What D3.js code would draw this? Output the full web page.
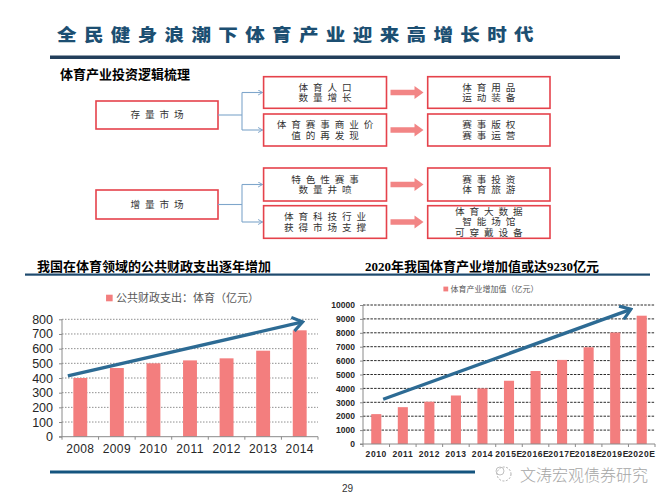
<!DOCTYPE html>
<html><head><meta charset="utf-8">
<script src="https://cdn.jsdelivr.net/npm/d3@7"></script>
<style>
html,body{margin:0;padding:0;background:#fff;}
svg{display:block;}
</style></head>
<body>
<svg id="c" width="669" height="499"></svg>
<script>
// ---- data ----
const pageTitle = "全民健身浪潮下体育产业迎来高增长时代";
const diagramTitle = "体育产业投资逻辑梳理";
const diagramLeft = ["存量市场", "增量市场"];
const diagramMid = [["体育人口", "数量增长"], ["体育赛事商业价", "值的再发现"], ["特色性赛事", "数量井喷"], ["体育科技行业", "获得市场支撑"]];
const diagramRight = [["体育用品", "运动装备"], ["赛事版权", "赛事运营"], ["赛事投资", "体育旅游"], ["体育大数据", "智能场馆", "可穿戴设备"]];

const leftTitle = "我国在体育领域的公共财政支出逐年增加";
const leftLegend = "公共财政支出：体育（亿元）";
const leftYears = ["2008", "2009", "2010", "2011", "2012", "2013", "2014"];
const leftValues = [400, 468, 500, 520, 534, 586, 725];
const leftTicks = [0, 100, 200, 300, 400, 500, 600, 700, 800];

const rightTitle = "2020年我国体育产业增加值或达9230亿元";
const rightLegend = "体育产业增加值（亿元）";
const rightYears = ["2010", "2011", "2012", "2013", "2014", "2015E", "2016E", "2017E", "2018E", "2019E", "2020E"];
const rightValues = [2150, 2650, 3040, 3490, 4000, 4550, 5250, 6050, 6960, 8020, 9230];
const rightTicks = [0, 1000, 2000, 3000, 4000, 5000, 6000, 7000, 8000, 9000, 10000];

// trend arrows: [category, offset in bands, value]
const leftTrend = [["2008", -0.34, 414], ["2014", 0.08, 782]];
const rightTrend = [["2010", 0.26, 3220], ["2020E", -0.41, 9690]];

const pageNumber = "29";
const watermark = "文涛宏观债券研究";

// ---- drawing ----
const svg = d3.select("#c");
const CJK = "'Noto Sans CJK SC', sans-serif";
const SANS = "'Liberation Sans', Arial, 'Noto Sans CJK SC', sans-serif";
const BAR = "#F37E7E";
const BLUE = "#2D6B94";

const defs = svg.append("defs");
defs.append("marker").attr("id", "chev").attr("markerUnits", "userSpaceOnUse")
  .attr("viewBox", "0 0 14 16").attr("refX", 12).attr("refY", 8)
  .attr("markerWidth", 14).attr("markerHeight", 16).attr("orient", "auto")
  .append("path").attr("d", "M2,1 L12,8 L2,15").attr("fill", "none")
  .attr("stroke", BLUE).attr("stroke-width", 3.2).attr("stroke-linejoin", "miter");
defs.append("marker").attr("id", "small").attr("markerUnits", "userSpaceOnUse")
  .attr("viewBox", "0 0 6 6").attr("refX", 5.5).attr("refY", 3)
  .attr("markerWidth", 6).attr("markerHeight", 6).attr("orient", "auto")
  .append("path").attr("d", "M1,0.5 L5.5,3 L1,5.5").attr("fill", "none")
  .attr("stroke", "#7FA6CB").attr("stroke-width", 1);

// page title
svg.append("text").attr("transform", "translate(57,41) scale(1.15,1)")
  .attr("font-family", CJK).attr("font-weight", 900).attr("font-size", 17)
  .attr("letter-spacing", 6.4).attr("fill", "#1C4F72").text(pageTitle);
svg.append("rect").attr("x", 50).attr("y", 55.5).attr("width", 570).attr("height", 3.5).attr("fill", "#233F5B");

svg.append("text").attr("x", 60).attr("y", 79).attr("font-family", CJK).attr("font-weight", 700)
  .attr("font-size", 13).attr("fill", "#000").text(diagramTitle);

// diagram
const boxStroke = "#E5424B";
const midY = [[76.7, 108.3], [114, 146], [168, 201], [205.7, 238.3]];
const leftBoxY = [[101, 129], [190, 219]];
const leftX = [96, 218], midX = [263.6, 386.5], rightX = [427.7, 550];

function boxText(g, lines, cx, y0, y1) {
  const lh = 10.2;
  const cy = (y0 + y1) / 2;
  const start = cy - (lines.length - 1) * lh / 2;
  const t = g.append("text").attr("text-anchor", "middle").attr("font-family", CJK).attr("font-size", 9.6)
    .attr("letter-spacing", 4.9).attr("fill", "#333");
  lines.forEach((s, i) => {
    t.append("tspan").attr("x", cx + 2.4).attr("y", start + i * lh).attr("dy", "0.36em").text(s);
  });
}
function box(x0, x1, y0, y1) {
  const g = svg.append("g");
  g.append("rect").attr("x", x0).attr("y", y0).attr("width", x1 - x0).attr("height", y1 - y0)
    .attr("fill", "#fff").attr("stroke", boxStroke).attr("stroke-width", 1.6);
  return g;
}
diagramLeft.forEach((t, i) => {
  const [y0, y1] = leftBoxY[i];
  const g = box(leftX[0], leftX[1], y0, y1);
  boxText(g, [t], (leftX[0] + leftX[1]) / 2, y0, y1);
  const cy = (y0 + y1) / 2;
  const a = midY[i * 2], b = midY[i * 2 + 1];
  const ya = (a[0] + a[1]) / 2, yb = (b[0] + b[1]) / 2;
  const conn = svg.append("g").attr("stroke", "#7FA6CB").attr("stroke-width", 1.1).attr("fill", "none");
  conn.append("line").attr("x1", leftX[1]).attr("x2", 242).attr("y1", cy).attr("y2", cy);
  conn.append("line").attr("x1", 242).attr("x2", 242).attr("y1", ya).attr("y2", yb);
  conn.append("line").attr("x1", 242).attr("x2", midX[0] - 1).attr("y1", ya).attr("y2", ya).attr("marker-end", "url(#small)");
  conn.append("line").attr("x1", 242).attr("x2", midX[0] - 1).attr("y1", yb).attr("y2", yb).attr("marker-end", "url(#small)");
});
diagramMid.forEach((lines, i) => {
  const [y0, y1] = midY[i];
  const g = box(midX[0], midX[1], y0, y1);
  boxText(g, lines, (midX[0] + midX[1]) / 2, y0, y1);
  const gr = box(rightX[0], rightX[1], y0, y1);
  boxText(gr, diagramRight[i], (rightX[0] + rightX[1]) / 2, y0, y1);
  const cy = (y0 + y1) / 2, ax = 390.5;
  svg.append("path").attr("fill", "#F28585")
    .attr("d", `M${ax},${cy - 2.8} L${ax + 24},${cy - 2.8} L${ax + 24},${cy - 6.5} L${ax + 33},${cy} L${ax + 24},${cy + 6.5} L${ax + 24},${cy + 2.8} L${ax},${cy + 2.8} Z`);
});

// chart header
svg.append("text").attr("x", 37).attr("y", 271).attr("font-family", CJK).attr("font-weight", 700)
  .attr("font-size", 13).attr("fill", "#000").text(leftTitle);
svg.append("text").attr("x", 365).attr("y", 271).attr("font-family", "'Liberation Serif', 'Noto Sans CJK SC', serif").attr("font-weight", 700)
  .attr("font-size", 13).attr("fill", "#000").text(rightTitle);
svg.append("rect").attr("x", 25).attr("y", 273.5).attr("width", 625).attr("height", 2.2).attr("fill", "#1E4A6E");

// generic bar chart
function barChart(cfg) {
  const x = d3.scaleBand().domain(cfg.cats).range(cfg.xr);
  const y = d3.scaleLinear().domain([0, cfg.max]).range(cfg.yr);
  const g = svg.append("g");
  // grid
  g.selectAll(".grid").data(cfg.ticks.filter(d => d > 0)).join("line")
    .attr("x1", cfg.xr[0]).attr("x2", cfg.xr[1]).attr("y1", d => y(d)).attr("y2", d => y(d))
    .attr("stroke", cfg.gridColor).attr("stroke-width", 1).attr("stroke-dasharray", cfg.dash);
  // bars
  g.selectAll(".bar").data(cfg.vals).join("rect")
    .attr("x", (d, i) => x(cfg.cats[i]) + x.bandwidth() * (1 - cfg.bw) / 2)
    .attr("width", x.bandwidth() * cfg.bw)
    .attr("y", d => y(d)).attr("height", d => y(0) - y(d)).attr("fill", BAR);
  // y axis
  const ya = g.append("g").attr("transform", `translate(${cfg.xr[0]},0)`)
    .call(d3.axisLeft(y).tickValues(cfg.ticks).tickSize(cfg.tick).tickPadding(cfg.ypad).tickFormat(d3.format("d")));
  ya.select(".domain").attr("stroke", "#8a8a8a").attr("d", `M-${cfg.tick},${cfg.yr[0]}H0V${cfg.yr[1]}`);
  ya.selectAll(".tick line").attr("stroke", "#8a8a8a");
  ya.selectAll("text").attr("font-family", SANS).attr("font-size", cfg.yfs).attr("font-weight", cfg.fw).attr("fill", "#262626");
  // x axis
  const xa = g.append("g").attr("transform", `translate(0,${cfg.yr[0]})`)
    .call(d3.axisBottom(x).tickSize(0).tickPadding(cfg.xpad));
  xa.select(".domain").attr("stroke", "#8a8a8a").attr("d", `M${cfg.xr[0]},0H${cfg.xr[1]}`);
  xa.selectAll("text").attr("font-family", SANS).attr("font-size", cfg.xfs).attr("font-weight", cfg.fw)
    .attr("letter-spacing", cfg.ls).attr("fill", "#262626");
  const bounds = cfg.cats.map(c => x(c)).concat([cfg.xr[1]]);
  xa.selectAll(".bnd").data(bounds).join("line").attr("x1", d => d).attr("x2", d => d)
    .attr("y1", 0).attr("y2", cfg.tick).attr("stroke", "#8a8a8a");
  // legend
  const lg = g.append("g").attr("transform", `translate(${cfg.legend[0]},${cfg.legend[1]})`);
  const lt = lg.append("text").attr("x", cfg.lfs * 0.9).attr("y", 0).attr("dy", "0.36em")
    .attr("font-family", CJK).attr("font-size", cfg.lfs).attr("fill", "#595959").text(cfg.legendText);
  const w = lt.node().getComputedTextLength() + cfg.lfs * 0.9;
  lg.attr("transform", `translate(${cfg.legend[0] - w / 2},${cfg.legend[1]})`);
  lg.append("rect").attr("x", 0).attr("y", -cfg.lfs * 0.3).attr("width", cfg.lfs * 0.6).attr("height", cfg.lfs * 0.6).attr("fill", BAR);
  // trend arrow
  const p = cfg.trend.map(([c, off, v]) => [x(c) + x.bandwidth() * (0.5 + off), y(v)]);
  g.append("line").attr("x1", p[0][0]).attr("y1", p[0][1]).attr("x2", p[1][0]).attr("y2", p[1][1])
    .attr("stroke", BLUE).attr("stroke-width", 3.4).attr("marker-end", "url(#chev)");
}

barChart({
  cats: leftYears, vals: leftValues, ticks: leftTicks, max: 800,
  xr: [62, 318], yr: [436.7, 319.3], bw: 0.38, gridColor: "#8f8f8f", dash: "1.5,1.5",
  tick: 3, ypad: 6, xpad: 8, yfs: 12.5, xfs: 12, fw: 400, ls: 0.4,
  legend: [182.5, 298], lfs: 11, legendText: leftLegend, trend: leftTrend
});
barChart({
  cats: rightYears, vals: rightValues, ticks: rightTicks, max: 10000,
  xr: [363, 655], yr: [444, 305], bw: 0.38, gridColor: "#2a2a2a", dash: "2.5,1.2",
  tick: 3, ypad: 5, xpad: 7, yfs: 8.5, xfs: 8.5, fw: 700, ls: 0.6,
  legend: [491, 289], lfs: 8, legendText: rightLegend, trend: rightTrend
});

// bottom line, page number, watermark
svg.append("rect").attr("x", 50).attr("y", 470.5).attr("width", 425).attr("height", 3).attr("fill", "#14547F");
svg.append("text").attr("x", 342).attr("y", 492).attr("font-family", SANS).attr("font-size", 10).attr("fill", "#333").text(pageNumber);
const wm = svg.append("g").attr("opacity", 0.9);
wm.append("circle").attr("cx", 504).attr("cy", 474).attr("r", 7).attr("fill", "none").attr("stroke", "#aaa").attr("stroke-width", 1).attr("stroke-dasharray", "2,1.5");
wm.append("circle").attr("cx", 500).attr("cy", 471).attr("r", 4).attr("fill", "none").attr("stroke", "#aaa").attr("stroke-width", 0.8);
wm.append("text").attr("x", 520).attr("y", 475).attr("dy", "0.36em").attr("font-family", CJK).attr("font-weight", 300)
  .attr("font-size", 16).attr("fill", "#9c9c9c").text(watermark);
</script>
</body></html>
